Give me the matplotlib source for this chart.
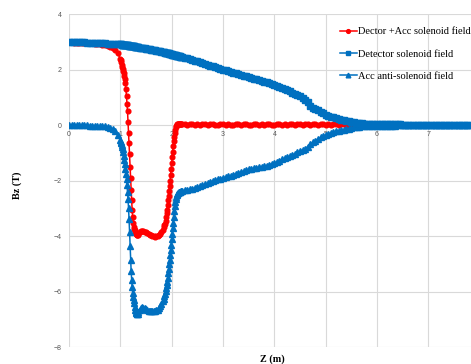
import numpy as np
import matplotlib
matplotlib.use("Agg")
import matplotlib.pyplot as plt

# Sampling positions along the beam axis (m): coarse in smooth parts,
# fine where the fields change quickly.
z = np.round(np.concatenate([
    np.arange(20) * 0.05,            # 0.00 .. 0.95
    1.00 + np.arange(35) * 0.01,     # 1.00 .. 1.34
    1.35 + np.arange(20) * 0.025,    # 1.35 .. 1.825
    1.85 + np.arange(35) * 0.01,     # 1.85 .. 2.19
    2.20 + np.arange(113) * 0.05,    # 2.20 .. 7.80
]), 3)

# Combined field: detector + accelerator solenoids (T)
bz_combined = [
    2.98, 2.98, 2.97, 2.97, 2.97, 2.96, 2.96, 2.95, 2.95, 2.94,
    2.93, 2.92, 2.91, 2.89, 2.87, 2.84, 2.80, 2.76, 2.70, 2.58,
    # 1.00 .. 1.34
    2.38, 2.33, 2.26, 2.18, 2.10, 2.02, 1.95, 1.87, 1.77, 1.64,
    1.50, 1.28, 1.03, 0.76, 0.49, 0.10, -0.30, -0.65, -1.05, -1.50,
    -1.90, -2.33, -2.70, -3.05, -3.32, -3.53, -3.66, -3.75, -3.80, -3.85,
    -3.90, -3.94, -3.97, -3.98, -3.96,
    # 1.35 .. 1.825
    -3.93, -3.86, -3.82, -3.81, -3.82, -3.84, -3.87, -3.90, -3.93, -3.96,
    -3.98, -4.00, -4.01, -4.02, -4.01, -3.99, -3.96, -3.91, -3.86, -3.78,
    # 1.85 .. 2.19
    -3.68, -3.62, -3.55, -3.45, -3.32, -3.18, -3.05, -2.90, -2.72, -2.55,
    -2.38, -2.20, -2.02, -1.80, -1.60, -1.37, -1.17, -0.97, -0.77, -0.58,
    -0.42, -0.29, -0.18, -0.09, -0.03, 0.01, 0.02, 0.03, 0.03, 0.03,
    0.03, 0.03, 0.02, 0.02, 0.02,
    # 2.20 .. 7.80
    0.02, 0.02, 0.01, 0.02, 0.02, 0.01, 0.02, 0.01, 0.02, 0.02,
    0.01, 0.02, 0.02, 0.01, 0.01, 0.02, 0.02, 0.01, 0.02, 0.01,
    0.01, 0.02, 0.02, 0.01, 0.02, 0.02, 0.01, 0.01, 0.02, 0.02,
    0.01, 0.02, 0.01, 0.02, 0.02, 0.01, 0.01, 0.02, 0.02, 0.01,
    0.02, 0.01, 0.02, 0.02, 0.01, 0.02, 0.02, 0.01, 0.03, 0.03,
    0.01, 0.02, 0.02, 0.01, 0.02, 0.02, 0.01, 0.02, 0.01, 0.02,
    0.02, 0.01, 0.02, 0.02, 0.01, 0.01, 0.02, 0.01, 0.01, 0.01,
    0.01, 0.01, 0.01, 0.01, 0.01, 0.01, 0.01, 0.01, 0.01, 0.01,
    0.01, 0.01, 0.01, 0.01, 0.01, 0.01, 0.01, 0.01, 0.01, 0.01,
    0.01, 0.01, 0.01, 0.01, 0.01, 0.01, 0.01, 0.01, 0.01, 0.01,
    0.01, 0.01, 0.01, 0.01, 0.01, 0.01, 0.01, 0.01, 0.01, 0.01,
    0.01, 0.01, 0.01,
]

# Detector solenoid field (T)
bz_detector = [
    3.00, 3.00, 2.99, 2.99, 2.99, 2.98, 2.98, 2.97, 2.97, 2.96,
    2.96, 2.95, 2.95, 2.94, 2.94, 2.93, 2.93, 2.92, 2.92, 2.91,
    # 1.00 .. 1.34
    2.91, 2.91, 2.91, 2.90, 2.90, 2.90, 2.90, 2.89, 2.89, 2.89,
    2.88, 2.88, 2.88, 2.87, 2.87, 2.87, 2.86, 2.86, 2.86, 2.85,
    2.85, 2.85, 2.84, 2.84, 2.84, 2.83, 2.83, 2.83, 2.82, 2.82,
    2.82, 2.81, 2.81, 2.81, 2.80,
    # 1.35 .. 1.825
    2.80, 2.79, 2.78, 2.78, 2.77, 2.76, 2.75, 2.75, 2.74, 2.73,
    2.72, 2.71, 2.70, 2.69, 2.68, 2.67, 2.66, 2.65, 2.64, 2.63,
    # 1.85 .. 2.19
    2.62, 2.62, 2.61, 2.61, 2.60, 2.60, 2.59, 2.59, 2.58, 2.58,
    2.57, 2.57, 2.56, 2.56, 2.55, 2.55, 2.54, 2.54, 2.53, 2.53,
    2.52, 2.52, 2.51, 2.51, 2.50, 2.50, 2.49, 2.49, 2.48, 2.48,
    2.47, 2.47, 2.46, 2.46, 2.45,
    # 2.20 .. 7.80
    2.45, 2.42, 2.40, 2.37, 2.35, 2.32, 2.29, 2.26, 2.23, 2.20,
    2.17, 2.14, 2.11, 2.08, 2.05, 2.02, 2.00, 1.97, 1.94, 1.92,
    1.89, 1.86, 1.84, 1.81, 1.78, 1.75, 1.73, 1.70, 1.67, 1.64,
    1.61, 1.59, 1.56, 1.54, 1.51, 1.48, 1.45, 1.41, 1.37, 1.33,
    1.29, 1.25, 1.21, 1.17, 1.12, 1.08, 1.03, 0.97, 0.90, 0.82,
    0.70, 0.62, 0.57, 0.53, 0.47, 0.42, 0.37, 0.33, 0.30, 0.28,
    0.26, 0.22, 0.19, 0.17, 0.15, 0.13, 0.11, 0.10, 0.08, 0.07,
    0.06, 0.05, 0.05, 0.04, 0.04, 0.03, 0.03, 0.03, 0.03, 0.02,
    0.02, 0.02, 0.02, 0.02, 0.02, 0.02, 0.01, 0.01, 0.01, 0.01,
    0.01, 0.01, 0.01, 0.01, 0.01, 0.01, 0.01, 0.01, 0.01, 0.01,
    0.01, 0.01, 0.01, 0.01, 0.01, 0.01, 0.01, 0.01, 0.01, 0.01,
    0.01, 0.01, 0.01,
]

# Accelerator anti-solenoid field (T)
bz_anti = [
    0.00, 0.00, 0.00, 0.00, -0.01, -0.01, -0.01, -0.01, -0.02, -0.02,
    -0.02, -0.03, -0.03, -0.04, -0.05, -0.07, -0.11, -0.16, -0.23, -0.36,
    # 1.00 .. 1.34
    -0.55, -0.60, -0.65, -0.71, -0.79, -0.88, -0.98, -1.10, -1.25, -1.42,
    -1.60, -1.78, -1.96, -2.18, -2.42, -2.68, -3.00, -3.40, -3.85, -4.35,
    -4.85, -5.25, -5.58, -5.85, -6.05, -6.20, -6.32, -6.43, -6.55, -6.66,
    -6.74, -6.79, -6.81, -6.82, -6.80,
    # 1.35 .. 1.825
    -6.75, -6.66, -6.59, -6.57, -6.58, -6.61, -6.64, -6.67, -6.69, -6.70,
    -6.71, -6.71, -6.71, -6.70, -6.68, -6.65, -6.60, -6.52, -6.44, -6.36,
    # 1.85 .. 2.19
    -6.26, -6.18, -6.08, -5.98, -5.88, -5.78, -5.65, -5.50, -5.35, -5.18,
    -5.02, -4.85, -4.68, -4.50, -4.32, -4.12, -3.92, -3.72, -3.52, -3.30,
    -3.10, -2.92, -2.78, -2.66, -2.58, -2.52, -2.48, -2.46, -2.44, -2.43,
    -2.42, -2.41, -2.40, -2.39, -2.38,
    # 2.20 .. 7.80
    -2.38, -2.36, -2.34, -2.32, -2.30, -2.27, -2.24, -2.21, -2.18, -2.14,
    -2.10, -2.06, -2.02, -1.99, -1.96, -1.93, -1.91, -1.88, -1.85, -1.82,
    -1.79, -1.76, -1.73, -1.70, -1.67, -1.63, -1.60, -1.58, -1.56, -1.54,
    -1.52, -1.50, -1.48, -1.46, -1.43, -1.40, -1.37, -1.33, -1.28, -1.24,
    -1.20, -1.16, -1.12, -1.08, -1.04, -0.99, -0.95, -0.90, -0.85, -0.78,
    -0.70, -0.62, -0.56, -0.50, -0.45, -0.41, -0.37, -0.33, -0.29, -0.26,
    -0.23, -0.21, -0.19, -0.17, -0.15, -0.13, -0.11, -0.09, -0.07, -0.06,
    -0.05, -0.04, -0.04, -0.03, -0.03, -0.02, -0.02, -0.02, -0.02, -0.02,
    -0.02, -0.02, -0.02, -0.02, -0.01, -0.01, -0.01, -0.01, -0.01, -0.01,
    -0.01, -0.01, -0.01, -0.01, -0.01, -0.01, -0.01, -0.01, -0.01, -0.01,
    -0.01, -0.01, -0.01, -0.01, -0.01, -0.01, -0.01, -0.01, -0.01, -0.01,
    -0.01, -0.01, -0.01,
]

series_labels = ["Dector +Acc solenoid field",
                 "Detector solenoid field",
                 "Acc anti-solenoid field"]
x_ticks = [0, 1, 2, 3, 4, 5, 6, 7]
y_ticks = [-8, -6, -4, -2, 0, 2, 4]

RED = "#FF0000"
BLUE = "#0070C0"

W, H = 471, 364
fig = plt.figure(figsize=(W / 100, H / 100), dpi=100)
fig.patch.set_facecolor("white")
ax = fig.add_axes([69 / W, 17 / H, (W - 69) / W, 333 / H])
ax.set_xlim(0, 7.83)
ax.set_ylim(-8, 4)

ax.plot(z, bz_combined, color=RED, lw=1.1, marker="o", ms=3.4,
        label=series_labels[0], zorder=3)
ax.plot(z, bz_detector, color=BLUE, lw=1.1, marker="s", ms=4.2,
        label=series_labels[1], zorder=4)
ax.plot(z, bz_anti, color=BLUE, lw=1.1, marker="^", ms=4.2,
        label=series_labels[2], zorder=5)

ax.set_xticks(x_ticks)
ax.set_yticks(y_ticks)
ax.grid(True, color="#d9d9d9", lw=0.8)
ax.set_axisbelow(True)
for side in ("top", "right", "left"):
    ax.spines[side].set_visible(False)
ax.spines["bottom"].set_position(("data", 0))
ax.spines["bottom"].set_visible(False)
ax.tick_params(axis="both", length=0, labelsize=5, labelcolor="#595959")
ax.tick_params(axis="x", pad=4.0)
ax.tick_params(axis="y", pad=5.0)
for lbl in ax.get_xticklabels() + ax.get_yticklabels():
    lbl.set_family("Liberation Sans")

fig.text(17 / W, 1 - 185 / H, "Bz (T)", rotation=90, ha="center",
         va="center", family="Liberation Serif", weight="bold", size=7.3)
fig.text(272.5 / W, 1 - 359 / H, "Z (m)", ha="center", va="center",
         family="Liberation Serif", weight="bold", size=7.3)

leg = ax.legend(loc="upper left", bbox_to_anchor=(340 / W, 1 - 27 / H),
                bbox_transform=fig.transFigure, frameon=False,
                prop={"family": "Liberation Serif", "size": 7.5},
                handlelength=1.6, handletextpad=0.15, labelspacing=1.25,
                borderpad=0, borderaxespad=0, markerscale=0.8)

fig.savefig("out.png", dpi=100)
